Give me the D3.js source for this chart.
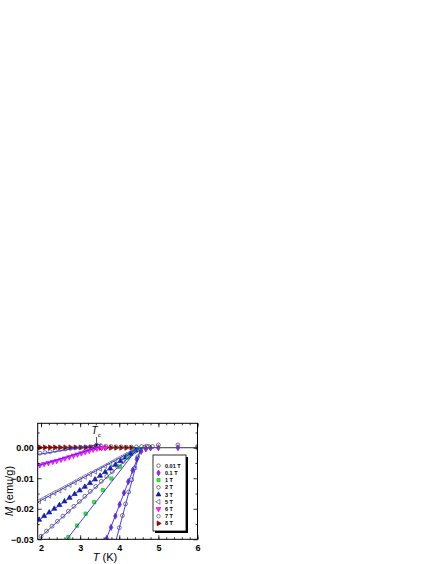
<!DOCTYPE html>
<html>
<head>
<meta charset="utf-8">
<script src="https://cdn.jsdelivr.net/npm/d3@7"></script>
<style>
  body { margin: 0; background: #fff; }
  svg { display: block; font-family: "Liberation Sans", Arial, sans-serif; }
</style>
</head>
<body>
<script>
// field labels for the legend
var fields = ['0.01 T', '0.1 T', '1 T', '2 T', '3 T', '5 T', '6 T', '7 T', '8 T'];

// temperature (K) and magnetization (emu/g) for every field
var t001 = [4.00, 4.08, 4.16, 4.24, 4.32, 4.40, 4.47, 4.55, 4.65, 4.75, 4.85, 5.00, 5.50, 6.00];
var m001 = [-0.0262, -0.0222, -0.0184, -0.0145, -0.0105, -0.0066, -0.0030, -0.0006, 0.0002, 0.0004, 0.0004, 0.0009, 0.0009, 0.0004];

var t01 = [3.68, 3.79, 3.90, 4.01, 4.12, 4.23, 4.34, 4.45, 4.56, 4.68, 4.80, 5.00, 5.50, 6.00];
var m01 = [-0.0297, -0.0261, -0.0224, -0.0186, -0.0148, -0.0111, -0.0074, -0.0038, -0.0012, -0.0004, -0.0001, 0.0000, 0.0000, 0.0000];

var t1 = [2.70, 2.92, 3.14, 3.36, 3.58, 3.80, 4.02, 4.22, 4.38, 4.50];
var m1 = [-0.0293, -0.0255, -0.0216, -0.0178, -0.0139, -0.0101, -0.0062, -0.0031, -0.0012, -0.0003];

var t2 = [2.00, 2.14, 2.28, 2.42, 2.56, 2.70, 2.84, 2.98, 3.12, 3.26, 3.40, 3.54, 3.68, 3.82, 3.96, 4.10, 4.24, 4.38, 4.50];
var m2 = [-0.0290, -0.0273, -0.0257, -0.0241, -0.0224, -0.0208, -0.0192, -0.0176, -0.0159, -0.0143, -0.0127, -0.0110, -0.0094, -0.0078, -0.0062, -0.0045, -0.0029, -0.0014, -0.0004];

var t3 = [1.95, 2.08, 2.21, 2.34, 2.47, 2.60, 2.73, 2.86, 2.99, 3.12, 3.25, 3.38, 3.51, 3.64, 3.77, 3.90, 4.03, 4.16, 4.29, 4.42];
var m3 = [-0.0236, -0.0224, -0.0212, -0.0200, -0.0188, -0.0176, -0.0164, -0.0152, -0.0140, -0.0128, -0.0116, -0.0104, -0.0092, -0.0080, -0.0068, -0.0056, -0.0044, -0.0032, -0.0020, -0.0009];

var t5 = [1.95, 2.08, 2.21, 2.34, 2.47, 2.60, 2.73, 2.86, 2.99, 3.12, 3.25, 3.38, 3.51, 3.64, 3.77, 3.90, 4.03, 4.16, 4.29, 4.42];
var m5 = [-0.0175, -0.0166, -0.0157, -0.0148, -0.0140, -0.0131, -0.0122, -0.0113, -0.0104, -0.0095, -0.0086, -0.0078, -0.0069, -0.0060, -0.0051, -0.0042, -0.0033, -0.0024, -0.0016, -0.0007];

var t6 = [1.97, 2.08, 2.19, 2.30, 2.40, 2.51, 2.61, 2.72, 2.83, 2.93, 3.03, 3.13, 3.23, 3.33, 3.43, 3.55, 3.65];
var m6 = [-0.0057, -0.0053, -0.0050, -0.0046, -0.0043, -0.0039, -0.0035, -0.0031, -0.0026, -0.0022, -0.0018, -0.0014, -0.0010, -0.0006, -0.0003, -0.0001, 0.0000];

var t7 = [1.97, 2.10, 2.23, 2.36, 2.49, 2.62, 2.75, 2.88, 3.01, 3.14, 3.27, 3.40, 3.53, 3.66, 3.79, 3.92, 4.05, 4.18, 4.31, 4.44, 4.57, 4.70];
var m7 = [-0.0018, -0.0016, -0.0013, -0.0009, -0.0006, -0.0004, -0.0002, 0.0000, 0.0001, 0.0002, 0.0003, 0.0005, 0.0006, 0.0005, 0.0004, 0.0003, 0.0003, 0.0002, 0.0002, 0.0003, 0.0004, 0.0005];

var t8 = [1.97, 2.10, 2.23, 2.36, 2.49, 2.62, 2.75, 2.88, 3.01, 3.14, 3.27, 3.40, 3.53, 3.66, 3.79, 3.92, 4.05, 4.18, 4.31];
var m8 = [0.0001, 0.0001, 0.0001, 0.0001, 0.0001, 0.0001, 0.0001, 0.0001, 0.0001, 0.0001, 0.0001, 0.0001, 0.0000, 0.0000, 0.0000, 0.0000, 0.0000, 0.0000, 0.0000];

// linear fits below Tc: [T start, M start, T end, M end]
var fit001 = [3.92, -0.0302, 4.55, 0.0000];
var fit01 = [3.66, -0.0302, 4.57, 0.0000];
var fit1 = [2.65, -0.0302, 4.48, 0.0000];
var fit2 = [1.98, -0.0293, 4.52, 0.0000];
var fit3 = [1.92, -0.0240, 4.48, 0.0000];
var fit5 = [1.92, -0.0178, 4.50, 0.0000];
var fit6 = [1.92, -0.0059, 3.50, 0.0003];
var fit7 = [1.92, -0.0022, 3.55, 0.0012];

var xTicks = [2, 3, 4, 5, 6];
var yTicks = [0.00, -0.01, -0.02, -0.03];
var tcT = 3.42;

const width = 436;
const height = 564;
const plot = { left: 37.7, right: 197.5, top: 423.3, bottom: 539.3 };

const x = d3.scaleLinear().domain([1.915, 6]).range([plot.left, plot.right]);
const y = d3.scaleLinear().domain([-0.03, 0.008]).range([plot.bottom, plot.top]);

const svg = d3.select("body").append("svg").attr("width", width).attr("height", height);
svg.append("rect").attr("width", width).attr("height", height).attr("fill", "#fff");

svg.append("defs").append("clipPath").attr("id", "clip")
   .append("rect")
   .attr("x", plot.left).attr("y", plot.top)
   .attr("width", plot.right - plot.left).attr("height", plot.bottom - plot.top);

// series styles
var series = [
  { t: t001, m: m001, shape: d3.symbolCircle, rot: 0, fill: "none", stroke: "#444", fit: fit001 },
  { t: t01, m: m01, shape: d3.symbolDiamond, rot: 0, fill: "#8a2be2", stroke: "#6a1fd0", fit: fit01 },
  { t: t1, m: m1, shape: d3.symbolSquare, rot: 0, fill: "#33ee33", stroke: "#22bb22", fit: fit1 },
  { t: t2, m: m2, shape: d3.symbolCircle, rot: 0, fill: "none", stroke: "#444", fit: fit2 },
  { t: t3, m: m3, shape: d3.symbolTriangle, rot: 0, fill: "#0a1a99", stroke: "#0a1a99", fit: fit3 },
  { t: t5, m: m5, shape: d3.symbolTriangle, rot: -90, fill: "none", stroke: "#555", fit: fit5 },
  { t: t6, m: m6, shape: d3.symbolTriangle, rot: 180, fill: "#ff22ff", stroke: "#ee00ee", fit: fit6 },
  { t: t7, m: m7, shape: d3.symbolCircle, rot: 0, fill: "none", stroke: "#555", fit: fit7 },
  { t: t8, m: m8, shape: d3.symbolTriangle, rot: 90, fill: "#8b0000", stroke: "#8b0000", fit: null }
];

const dataGroup = svg.append("g").attr("clip-path", "url(#clip)");

// zero line
dataGroup.append("line")
   .attr("x1", x(1.915)).attr("x2", x(6))
   .attr("y1", y(0)).attr("y2", y(0))
   .attr("stroke", "#000").attr("stroke-width", 0.8);

// markers (drawn from high field to low field)
series.slice().reverse().forEach(function (s) {
  var sym = d3.symbol().type(s.shape).size(s.shape === d3.symbolCircle ? 12 : 11);
  dataGroup.append("g").selectAll("path")
     .data(s.t)
     .join("path")
     .attr("d", sym)
     .attr("transform", function (d, i) { return "translate(" + x(d) + "," + y(s.m[i]) + ") rotate(" + s.rot + ")"; })
     .attr("fill", s.fill)
     .attr("stroke", s.stroke)
     .attr("stroke-width", 0.7);
});

// fit lines
series.forEach(function (s) {
  if (!s.fit) return;
  dataGroup.append("line")
     .attr("x1", x(s.fit[0])).attr("y1", y(s.fit[1]))
     .attr("x2", x(s.fit[2])).attr("y2", y(s.fit[3]))
     .attr("stroke", "#2a2aff").attr("stroke-width", 0.9);
});

// axes with inward ticks
const xAxis = d3.axisBottom(x).tickValues(xTicks).tickSize(-4).tickPadding(5).tickFormat(d3.format("d"));
const xMinor = d3.axisBottom(x).tickValues(d3.range(2, 6.01, 0.2)).tickSize(-2).tickFormat("");
const yAxis = d3.axisLeft(y).tickValues(yTicks).tickSize(-4).tickPadding(4).tickFormat(d3.format(".2f"));
const yMinor = d3.axisLeft(y).tickValues([0.005, -0.005, -0.015, -0.025]).tickSize(-2).tickFormat("");

function styleAxis(g) {
  g.select(".domain").remove();
  g.selectAll("line").attr("stroke", "#000").attr("stroke-width", 0.8);
  g.selectAll("text").attr("font-size", 9).attr("font-weight", "bold").attr("fill", "#000");
}

svg.append("g").attr("transform", `translate(0, ${plot.bottom})`).call(xAxis).call(styleAxis);
svg.append("g").attr("transform", `translate(0, ${plot.bottom})`).call(xMinor).call(styleAxis);
svg.append("g").attr("transform", `translate(0, ${plot.top})`).call(d3.axisTop(x).tickValues(xTicks).tickSize(-4).tickFormat("")).call(styleAxis);
svg.append("g").attr("transform", `translate(0, ${plot.top})`).call(d3.axisTop(x).tickValues(d3.range(2, 6.01, 0.2)).tickSize(-2).tickFormat("")).call(styleAxis);
svg.append("g").attr("transform", `translate(${plot.left}, 0)`).call(yAxis).call(styleAxis);
svg.append("g").attr("transform", `translate(${plot.left}, 0)`).call(yMinor).call(styleAxis);
svg.append("g").attr("transform", `translate(${plot.right}, 0)`).call(d3.axisRight(y).tickValues(yTicks).tickSize(-4).tickFormat("")).call(styleAxis);
svg.append("g").attr("transform", `translate(${plot.right}, 0)`).call(d3.axisRight(y).tickValues([0.005, -0.005, -0.015, -0.025]).tickSize(-2).tickFormat("")).call(styleAxis);

// frame
svg.append("rect")
   .attr("x", plot.left).attr("y", plot.top)
   .attr("width", plot.right - plot.left).attr("height", plot.bottom - plot.top)
   .attr("fill", "none").attr("stroke", "#000").attr("stroke-width", 1);

// axis titles
var xTitle = svg.append("text")
   .attr("x", 105).attr("y", 560.5)
   .attr("text-anchor", "middle").attr("font-size", 11);
xTitle.append("tspan").attr("font-style", "italic").text("T");
xTitle.append("tspan").text(" (K)");

var yTitle = svg.append("text")
   .attr("transform", "translate(13, 491) rotate(-90)")
   .attr("text-anchor", "middle").attr("font-size", 11);
yTitle.append("tspan").attr("font-style", "italic").text("M");
yTitle.append("tspan").text(" (emu/g)");

// Tc marker
var tc = svg.append("text").attr("x", x(tcT) - 0.5).attr("y", 434).attr("text-anchor", "middle").attr("font-size", 10);
tc.append("tspan").attr("font-style", "italic").text("T");
tc.append("tspan").attr("font-size", 6).attr("dy", 2.5).text("c");
svg.append("line")
   .attr("x1", x(tcT)).attr("x2", x(tcT))
   .attr("y1", 437).attr("y2", y(0.0006))
   .attr("stroke", "#000").attr("stroke-width", 0.7);
svg.append("path")
   .attr("d", `M${x(tcT) - 1.6},${y(0.0006) - 3} L${x(tcT)},${y(0.0006)} L${x(tcT) + 1.6},${y(0.0006) - 3}`)
   .attr("fill", "none").attr("stroke", "#000").attr("stroke-width", 0.7);

// legend box with drop shadow
const legend = { left: 153, top: 455, right: 186, bottom: 531 };
svg.append("rect")
   .attr("x", legend.left + 2).attr("y", legend.top + 2)
   .attr("width", legend.right - legend.left).attr("height", legend.bottom - legend.top)
   .attr("fill", "#000");
svg.append("rect")
   .attr("x", legend.left).attr("y", legend.top)
   .attr("width", legend.right - legend.left).attr("height", legend.bottom - legend.top)
   .attr("fill", "#fff").attr("stroke", "#000").attr("stroke-width", 0.8);

const rowY = d3.scalePoint().domain(fields).range([465.7, 523.4]);
series.forEach(function (s, i) {
  var sym = d3.symbol().type(s.shape).size(s.shape === d3.symbolCircle ? 10 : 10);
  svg.append("path")
     .attr("d", sym)
     .attr("transform", "translate(158.5," + rowY(fields[i]) + ") rotate(" + s.rot + ")")
     .attr("fill", s.fill).attr("stroke", s.stroke).attr("stroke-width", 0.7);
  svg.append("text")
     .attr("x", 165).attr("y", rowY(fields[i]) + 2)
     .attr("font-size", 5.5).attr("font-weight", "bold")
     .text(fields[i]);
});
</script>
</body>
</html>
